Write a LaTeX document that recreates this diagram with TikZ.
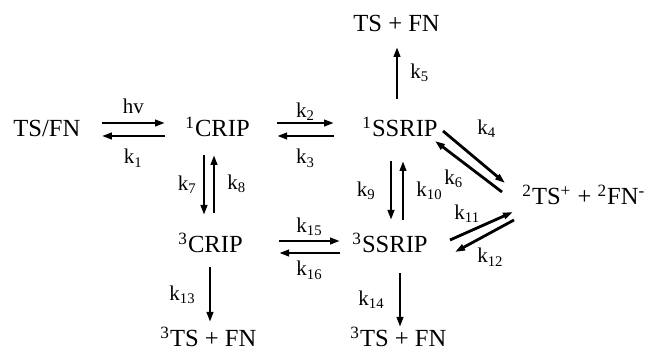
\documentclass[tikz,border=0pt]{standalone}
\usepackage{fontspec}
\setmainfont{Liberation Serif}
\usetikzlibrary{arrows.meta,positioning}

\begin{document}
\begin{tikzpicture}[
  x=0.5pt, y=-0.5pt,
  species/.style={inner sep=0pt, anchor=base west, font=\fontsize{12.3}{14}\selectfont},
  rate/.style={inner sep=0pt, font=\fontsize{10.5}{12}\selectfont},
  arr/.style={-{Triangle[length=5pt,width=3.2pt]}, line width=1.4pt}
]
  \useasboundingbox (0,0) rectangle (646,351);
  % species
  \node[species] (tsfn) at (13,137) {TS/FN};
  \node[species] (crip1) at (185,137) {\textsuperscript{1}CRIP};
  \node[species] (ssrip1) at (362,137) {\textsuperscript{1}SSRIP};
  \node[species] (tsfnup) at (353,32) {TS + FN};
  \node[species] (ion) at (522,205) {\textsuperscript{2}TS\textsuperscript{+} + \textsuperscript{2}FN\textsuperscript{-}};
  \node[species] (crip3) at (178,253) {\textsuperscript{3}CRIP};
  \node[species] (ssrip3) at (352,253) {\textsuperscript{3}SSRIP};
  \node[species] (trip3a) at (160,347) {\textsuperscript{3}TS + FN};
  \node[species] (trip3b) at (350,347) {\textsuperscript{3}TS + FN};
  % upper row
  \draw[arr] ([shift={(21,-14)}]tsfn.base east) -- ([shift={(-20,-14)}]crip1.base west)
    node[rate, midway, above=4pt] {hv};
  \draw[arr] ([shift={(-20,-1)}]crip1.base west) -- ([shift={(21,-1)}]tsfn.base east)
    node[rate, midway, below=6pt] {k\textsubscript{1}};
  \draw[arr] ([shift={(27,-14)}]crip1.base east) -- ([shift={(-28,-14)}]ssrip1.base west)
    node[rate, midway, above=0.5pt] {k\textsubscript{2}};
  \draw[arr] ([shift={(-28,-1)}]ssrip1.base west) -- ([shift={(27,-1)}]crip1.base east)
    node[rate, midway, below=6pt] {k\textsubscript{3}};
  \draw[arr] ([shift={(35,-38)}]ssrip1.base west) -- ([shift={(44,15)}]tsfnup.base west)
    node[rate, midway, right=6pt] {k\textsubscript{5}};
  % to the ion pair
  \draw[arr] ([shift={(81,-6)}]ssrip1.base west) -- ([shift={(-17,-22)}]ion.base west)
    node[rate, midway, above right=9pt and 1pt] {k\textsubscript{4}};
  \draw[arr] ([shift={(-20,-13)}]ion.base west) -- ([shift={(73,4)}]ssrip1.base west)
    node[rate, midway, below left=1pt and 2pt] {k\textsubscript{6}};
  \draw[arr] ([shift={(98,-13)}]ssrip3.base west) -- ([shift={(-9,7)}]ion.base west)
    node[rate, midway, above left=1pt and 0pt] {k\textsubscript{11}};
  \draw[arr] ([shift={(-8,15)}]ion.base west) -- ([shift={(103,-1)}]ssrip3.base west)
    node[rate, pos=0.4, below=7pt] {k\textsubscript{12}};
  % singlet to triplet
  \draw[arr] ([shift={(19,18)}]crip1.base west) -- ([shift={(26,-38)}]crip3.base west)
    node[rate, midway, left=3pt] {k\textsubscript{7}};
  \draw[arr] ([shift={(36,-40)}]crip3.base west) -- ([shift={(29,18)}]crip1.base west)
    node[rate, midway, right=6pt] {k\textsubscript{8}};
  \draw[arr] ([shift={(29,24)}]ssrip1.base west) -- ([shift={(39,-33)}]ssrip3.base west)
    node[rate, midway, left=7pt] {k\textsubscript{9}};
  \draw[arr] ([shift={(51,-33)}]ssrip3.base west) -- ([shift={(41,24)}]ssrip1.base west)
    node[rate, midway, right=6pt] {k\textsubscript{10}};
  % lower row
  \draw[arr] ([shift={(36,-12)}]crip3.base east) -- ([shift={(-12,-12)}]ssrip3.base west)
    node[rate, midway, above=2pt] {k\textsubscript{15}};
  \draw[arr] ([shift={(-12,0)}]ssrip3.base west) -- ([shift={(36,0)}]crip3.base east)
    node[rate, midway, below=3.5pt] {k\textsubscript{16}};
  \draw[arr] ([shift={(32,14)}]crip3.base west) -- ([shift={(50,-25)}]trip3a.base west)
    node[rate, midway, left=6.5pt] {k\textsubscript{13}};
  \draw[arr] ([shift={(48,20)}]ssrip3.base west) -- ([shift={(50,-20)}]trip3b.base west)
    node[rate, midway, left=7pt] {k\textsubscript{14}};
\end{tikzpicture}
\end{document}
